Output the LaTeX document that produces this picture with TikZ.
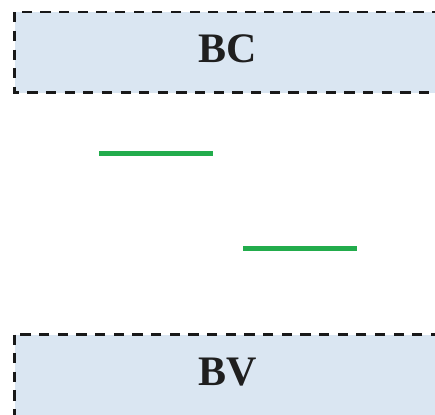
\documentclass[tikz,border=0pt]{standalone}
\usepackage{fontspec}
\setmainfont{Liberation Serif}
\definecolor{boxfill}{HTML}{DAE6F2}
\definecolor{linegreen}{HTML}{22AC4C}
\begin{document}
\begin{tikzpicture}[x=1pt,y=-1pt,
  bandbox/.style={fill=boxfill,draw=black!90,line width=2.6pt,dash pattern=on 10.3pt off 8.36pt},
  caption/.style={font=\bfseries\fontsize{42}{42}\selectfont,text=black!88,anchor=base,inner sep=0pt},
  greenline/.style={draw=linegreen,line width=5.5pt}]
\useasboundingbox (0,0) rectangle (435,414);
\coordinate (bctl) at (14.5,12.2);
\coordinate (bcbr) at (446.4,92.8);
\coordinate (bvtl) at (14.5,334.5);
\coordinate (bvbr) at (446.4,423.8);
\path[bandbox] (bctl) rectangle (bcbr);
\path[bandbox] (bvtl) rectangle (bvbr);
\node[caption] (bc) at (228,62.5) {BC};
\node[caption] (bv) at (228,385) {BV};
\coordinate (g1a) at (99,153.5);
\coordinate (g1b) at (213,153.5);
\coordinate (g2a) at (243,248.5);
\coordinate (g2b) at (357,248.5);
\draw[greenline] (g1a) -- (g1b);
\draw[greenline] (g2a) -- (g2b);
\end{tikzpicture}
\end{document}
